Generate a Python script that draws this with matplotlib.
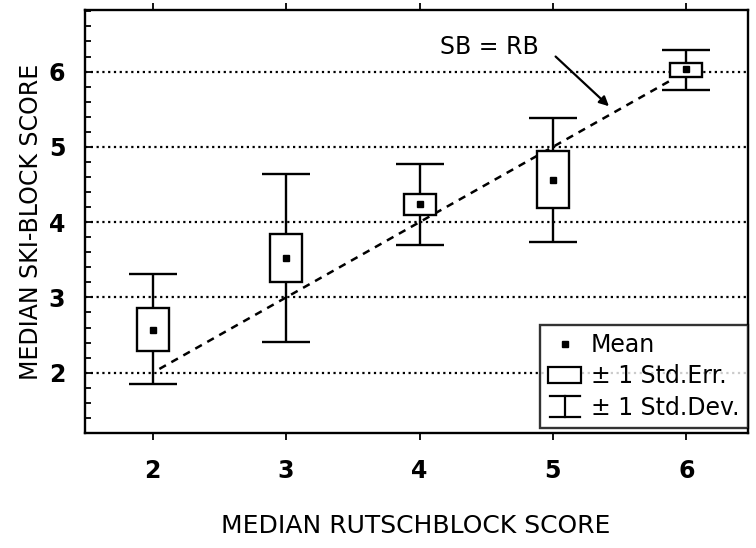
import matplotlib
matplotlib.use("Agg")
import matplotlib.pyplot as plt
from matplotlib.legend_handler import HandlerBase
from matplotlib.lines import Line2D
from matplotlib.patches import Rectangle
from matplotlib.ticker import MultipleLocator

# Rutschblock vs. ski-block scores
rb = [2, 3, 4, 5, 6]
sb_mean = [2.57, 3.52, 4.24, 4.56, 6.03]
se_lo = [2.29, 3.21, 4.09, 4.19, 5.93]
se_hi = [2.86, 3.84, 4.38, 4.94, 6.12]
sd_lo = [1.85, 2.41, 3.70, 3.73, 5.76]
sd_hi = [3.31, 4.64, 4.77, 5.39, 6.29]

# line SB = RB
line_x = [2.05, 5.88]
line_y = [2.05, 5.88]


class HandlerIBar(HandlerBase):
    def create_artists(self, legend, orig_handle, xdescent, ydescent,
                       width, height, fontsize, trans):
        cx = width / 2 - xdescent
        y0 = -ydescent - 0.15 * height
        y1 = -ydescent + 1.15 * height
        w = 0.45 * width
        lines = [
            Line2D([cx, cx], [y0, y1], color="black", lw=1.6),
            Line2D([cx - w, cx + w], [y0, y0], color="black", lw=1.6),
            Line2D([cx - w, cx + w], [y1, y1], color="black", lw=1.6),
        ]
        for l in lines:
            l.set_transform(trans)
        return lines


fig = plt.figure(figsize=(7.56, 5.48), dpi=100)
ax = fig.add_axes([0.112, 0.21, 0.877, 0.772])

sd_err = [[m - l for m, l in zip(sb_mean, sd_lo)],
          [h - m for m, h in zip(sb_mean, sd_hi)]]
ax.errorbar(rb, sb_mean, yerr=sd_err, fmt="none", ecolor="black",
            elinewidth=1.7, capsize=17, capthick=1.7, zorder=2)
ax.bar(rb, [h - l for h, l in zip(se_hi, se_lo)], bottom=se_lo, width=0.24,
       facecolor="white", edgecolor="black", linewidth=1.7, zorder=3)
ax.plot(rb, sb_mean, "s", color="black", ms=4.5, zorder=4)

ax.plot(line_x, line_y, color="black", lw=1.8, linestyle=(0, (3, 2.5)), zorder=2.5)

for yv in [2, 3, 4, 5, 6]:
    ax.axhline(yv, color="black", lw=1.6, linestyle=(0, (1, 1.6)), zorder=1)

ax.text(4.52, 6.33, "SB = RB", ha="center", va="center", fontsize=17, zorder=5)
ax.annotate("", xy=(5.42, 5.54), xytext=(5.02, 6.2),
            arrowprops=dict(arrowstyle="-|>", color="black", lw=1.6,
                            shrinkA=0, shrinkB=0, mutation_scale=14),
            zorder=5)

ax.set_xlim(1.49, 6.46)
ax.set_ylim(1.2, 6.82)
ax.set_xticks(rb)
ax.set_yticks([2, 3, 4, 5, 6])
ax.yaxis.set_minor_locator(MultipleLocator(0.2))
ax.tick_params(axis="x", direction="out", length=5, width=1.3, top=True,
               labelsize=17, pad=14)
ax.tick_params(axis="y", which="major", direction="in", length=6, width=1.3,
               labelsize=17, pad=14)
ax.tick_params(axis="y", which="minor", direction="in", length=4, width=1.3)
for lab in ax.get_xticklabels() + ax.get_yticklabels():
    lab.set_fontweight("bold")
for s in ax.spines.values():
    s.set_linewidth(1.7)

ax.set_xlabel("MEDIAN RUTSCHBLOCK SCORE", fontsize=18, labelpad=22)
ax.set_ylabel("MEDIAN SKI-BLOCK SCORE", fontsize=17, labelpad=4)

h_mean = Line2D([], [], marker="s", color="black", linestyle="none", ms=5)
h_se = Rectangle((0, 0), 1, 1, facecolor="white", edgecolor="black", lw=1.6)
h_sd = Line2D([], [])
leg = ax.legend([h_mean, h_se, h_sd],
                ["Mean", "\u00b1 1 Std.Err.", "\u00b1 1 Std.Dev."],
                handler_map={h_sd: HandlerIBar()},
                loc="lower right", bbox_to_anchor=(1.0, 0.012),
                borderaxespad=0, fontsize=17, frameon=True, fancybox=False,
                handlelength=1.4, handletextpad=0.4, labelspacing=0.3,
                borderpad=0.35)
leg.get_frame().set_edgecolor("black")
leg.get_frame().set_linewidth(1.7)
leg.set_zorder(6)

fig.savefig("out.png", dpi=100)
